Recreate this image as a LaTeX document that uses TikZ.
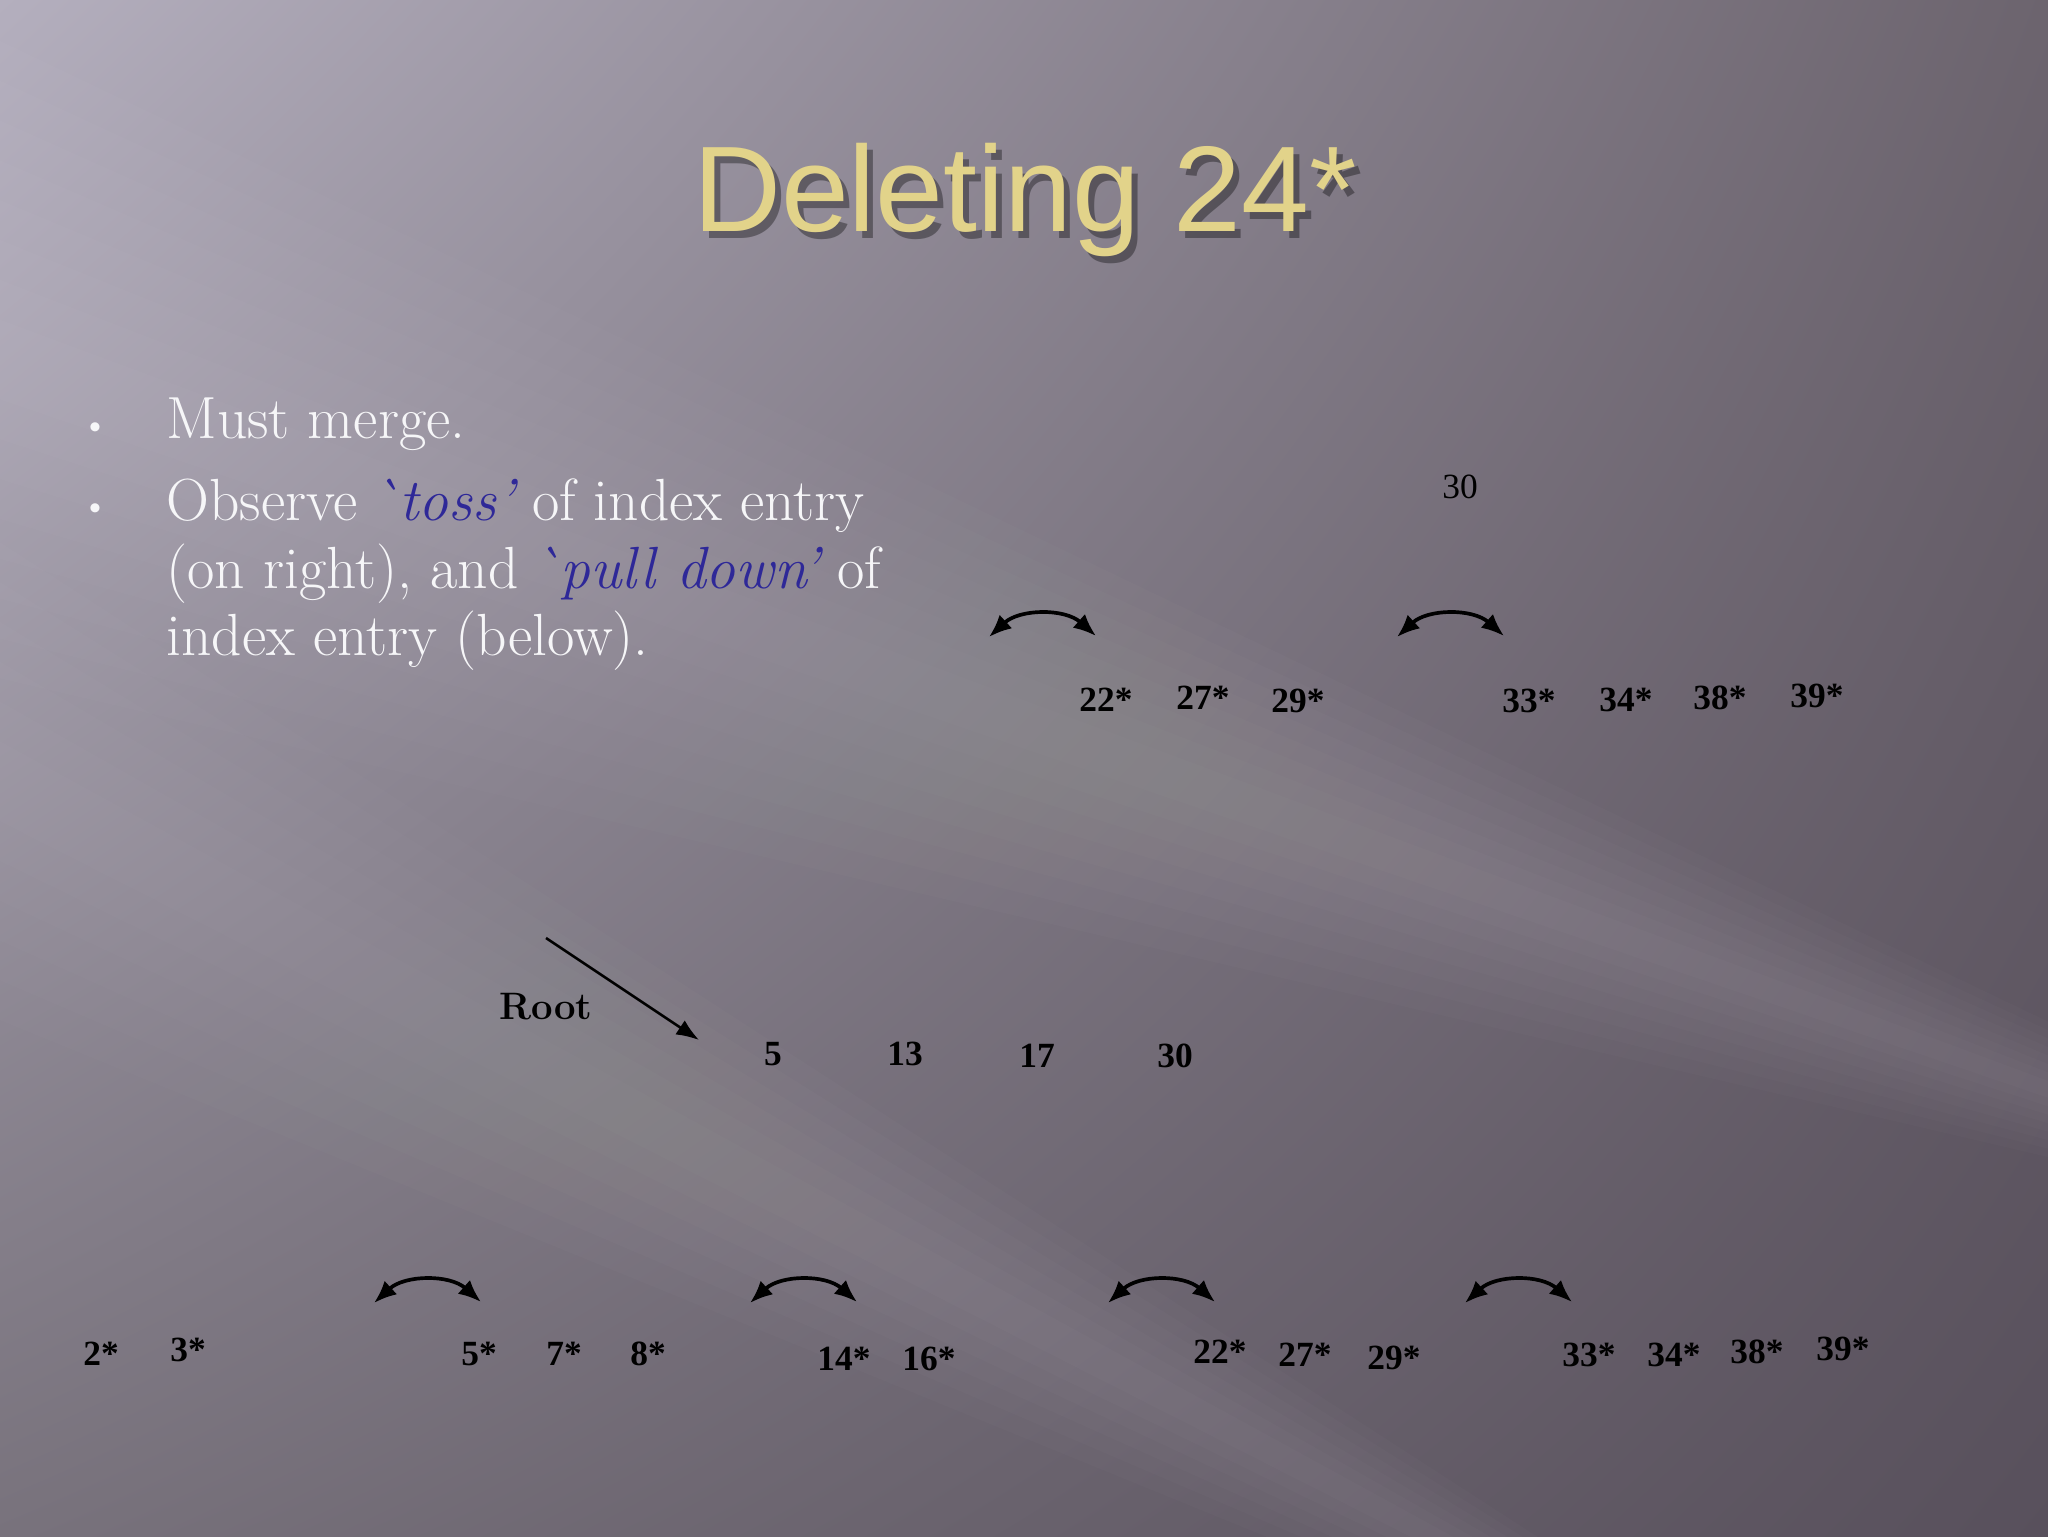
\documentclass[tikz,border=0pt]{standalone}
\usepackage{fontspec}
\newfontfamily\titlefont{Liberation Sans}
\newfontfamily\numfont{Liberation Serif}
\usetikzlibrary{arrows.meta,shadings}

\definecolor{slidegold}{RGB}{226,211,138}
\definecolor{tossblue}{RGB}{46,40,152}
\definecolor{slidewhite}{RGB}{246,246,248}
\definecolor{bgul}{RGB}{180,175,190}
\definecolor{bgur}{RGB}{108,100,110}
\definecolor{bgll}{RGB}{120,114,124}
\definecolor{bglr}{RGB}{88,80,92}
\newcommand{\toss}[1]{\textcolor{tossblue}{\itshape\kern-.1em #1}}

\begin{document}
\begin{tikzpicture}[x=0.0124023cm,y=0.0124023cm,
  title text/.style={font=\titlefont\fontsize{43}{50}\selectfont,anchor=base,inner sep=0pt},
  bullet text/.style={font=\fontsize{21}{23.9}\selectfont,text=slidewhite,anchor=base west,inner sep=0pt,align=left},
  key node/.style={font=\numfont\bfseries\fontsize{12.5}{14}\selectfont,anchor=base,inner sep=0pt},
  swap arc/.style={line width=1.3pt,{Latex[length=8pt,width=6.5pt]}-{Latex[length=8pt,width=6.5pt]}}]

  \useasboundingbox (0,0) rectangle (2048,1536);

  % slide background
  \shade[upper left=bgul,upper right=bgur,lower left=bgll,lower right=bglr]
    (0,0) rectangle (2048,1536);
  \foreach \w in {40,80,...,320}
    \fill[white,opacity=.016] (-10,1180+\w) -- (2600,250) -- (-10,1180-\w) -- cycle;
  \foreach \w in {40,80,...,240}
    \fill[white,opacity=.014] (-10,760+\w) -- (2000,-300) -- (-10,760-\w) -- cycle;

  % title
  \node[title text,text=black,opacity=.35] (title shadow) at (1031,1297) {Deleting 24*};
  \node[title text,text=slidegold] (title) at (1025,1304) {Deleting 24*};

  % bullets
  \node[bullet text,anchor=base] (dot1) at (95,1100) {\fontsize{12}{12}\selectfont\textbullet};
  \node[bullet text,anchor=base] (dot2) at (95,1019) {\fontsize{12}{12}\selectfont\textbullet};
  \node[bullet text] (must) at (166,1097) {Must merge.};
  \node[bullet text] (observe) at (166,880)
    {Observe \toss{\textasciigrave toss'} of index entry\\(on right), and \toss{\textasciigrave pull down'} of\\index entry (below).};

  % upper level after the toss
  \node[key node,font=\numfont\fontsize{12.5}{14}\selectfont] (t30) at (1460,1037) {30};
  \foreach \x/\y/\k in {1106/824/22,1203/826/27,1298/823/29,1529/823/33,1626/824/34,1720/826/38,1817/828/39}
    \node[key node] (t\k) at (\x,\y) {\k*};
  \foreach \n/\x in {1/989,2/1397} {
    \coordinate (ta\n) at (\x,899);
    \coordinate (tb\n) at (\x+107,900);
    \draw[swap arc] (ta\n) to[bend left=42] (tb\n);
  }

  % root
  \node[key node,font=\bfseries\fontsize{13.5}{16}\selectfont] (root) at (546,516) {Root};
  \node[key node] (k5) at (773,470) {5};
  \node[key node] (k13) at (905,470) {13};
  \node[key node] (k17) at (1037,468) {17};
  \node[key node] (k30) at (1175,468) {30};
  \coordinate (root tail) at (546,598);
  \coordinate (root head) at (699,496);
  \draw[line width=.9pt,-{Latex[length=8pt,width=6pt]}] (root tail) -- (root head);

  % leaves
  \foreach \x/\y/\k in {101/171/2,188/175/3,479/171/5,564/171/7,648/171/8,844/166/14,929/166/16,
      1220/173/22,1305/170/27,1394/167/29,1589/170/33,1674/170/34,1757/173/38,1843/176/39}
    \node[key node] (b\k) at (\x,\y) {\k*};
  \foreach \n/\x in {1/374,2/750,3/1108,4/1465} {
    \coordinate (ba\n) at (\x,233);
    \coordinate (bb\n) at (\x+107,234);
    \draw[swap arc] (ba\n) to[bend left=42] (bb\n);
  }
\end{tikzpicture}
\end{document}
